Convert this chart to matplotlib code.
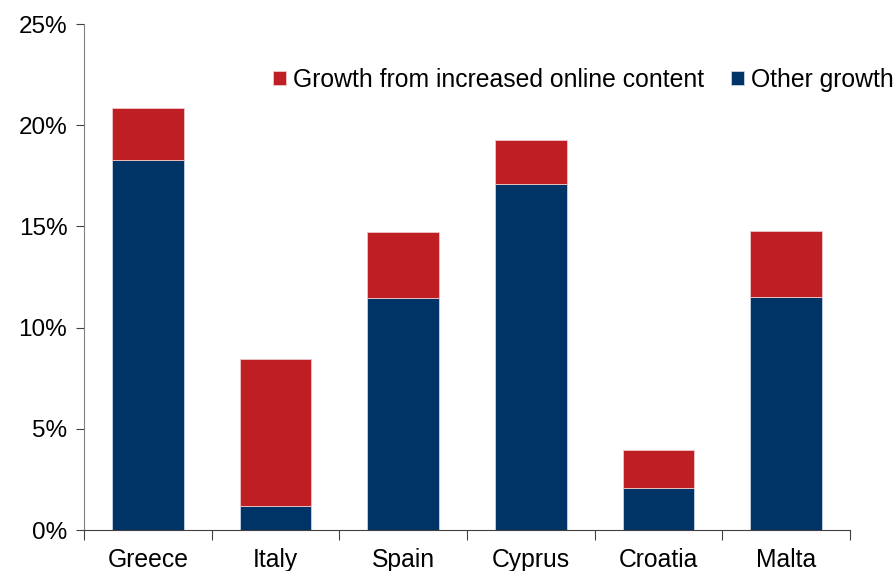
import matplotlib.pyplot as plt
import numpy as np
from matplotlib.ticker import FuncFormatter

plt.rcParams['font.family'] = ['Liberation Sans', 'DejaVu Sans']

countries = ["Greece", "Italy", "Spain", "Cyprus", "Croatia", "Malta"]
other_growth = [18.3, 1.2, 11.45, 17.1, 2.1, 11.5]
online_growth = [2.55, 7.25, 3.3, 2.15, 1.85, 3.3]

red = "#BE1E24"
navy = "#003366"

fig = plt.figure(figsize=(8.96, 5.71), dpi=100)
ax = fig.add_axes([0.09375, 0.0718, 0.855, 0.886])

x = np.arange(len(countries))
ax.bar(x, other_growth, width=0.56, color=navy, edgecolor="#c8d4e4", linewidth=0.6,
       label="Other growth")
ax.bar(x, online_growth, width=0.56, bottom=other_growth, color=red,
       edgecolor="#f0c8c8", linewidth=0.6, label="Growth from increased online content")

ax.set_xlim(-0.5, len(countries) - 0.5)
ax.set_ylim(0, 25)
ax.set_yticks(np.arange(0, 26, 5))
ax.yaxis.set_major_formatter(FuncFormatter(lambda v, p: f"{v:.0f}%"))

# category labels centred, tick marks on the boundaries
ax.set_xticks(np.arange(-0.5, len(countries), 1.0))
ax.set_xticklabels([])
ax.set_xticks(x, minor=True)
ax.set_xticklabels(countries, minor=True)
ax.tick_params(axis="x", which="minor", length=0, labelsize=17.8, pad=13)
ax.tick_params(axis="x", which="major", length=7, color="#404040", direction="out")
ax.tick_params(axis="y", length=6, color="#404040", labelsize=17.5, pad=6)

for side in ["top", "right"]:
    ax.spines[side].set_visible(False)
ax.spines["left"].set_color("#808080")
ax.spines["bottom"].set_color("#404040")

handles, labels = ax.get_legend_handles_labels()
ax.legend(handles[::-1], labels[::-1], loc="center right", bbox_to_anchor=(1.07, 0.89),
          ncol=2, frameon=False, fontsize=17.8, handlelength=0.5, handleheight=0.5,
          handletextpad=0.3, columnspacing=1.1, borderaxespad=0)

fig.savefig("out.png", dpi=100)
